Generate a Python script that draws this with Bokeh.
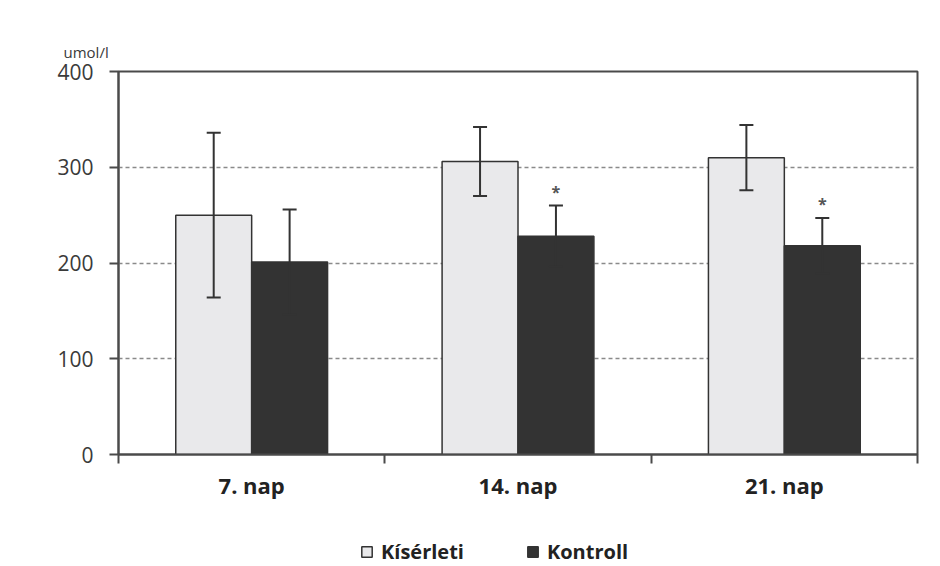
from bokeh.plotting import figure
from bokeh.layouts import column
from bokeh.models import (ColumnDataSource, FixedTicker, Whisker, TeeHead, Legend,
                          LegendItem, Range1d)
from bokeh.core.properties import value
from bokeh.embed import file_html
from bokeh.resources import INLINE

# ---- data ----
days = ["7. nap", "14. nap", "21. nap"]
kiserleti = [250, 306, 310]
kiserleti_err = [86, 36, 34]
kontroll = [201, 228, 218]
kontroll_err = [55, 32, 29]
sig = ["", "*", "*"]
y_ticks = [0, 100, 200, 300, 400]
unit_label = "umol/l"
series_names = ["Kísérleti", "Kontroll"]

FONT = "Open Sans"
DARK = "#333333"
LIGHT = "#e9e9eb"
AX = "#4a4a4a"

bar_w = 0.285
centers = [i + 0.5 for i in range(len(days))]
x_k = [c - bar_w / 2 for c in centers]
x_c = [c + bar_w / 2 for c in centers]

src_k = ColumnDataSource(dict(x=x_k, top=kiserleti,
                              lo=[m - e for m, e in zip(kiserleti, kiserleti_err)],
                              hi=[m + e for m, e in zip(kiserleti, kiserleti_err)]))
src_c = ColumnDataSource(dict(x=x_c, top=kontroll,
                              lo=[m - e for m, e in zip(kontroll, kontroll_err)],
                              hi=[m + e for m, e in zip(kontroll, kontroll_err)],
                              sig=sig))

p = figure(width=940, height=530, output_backend="svg", toolbar_location=None,
           x_range=Range1d(0, len(days)), y_range=Range1d(y_ticks[0], y_ticks[-1]),
           min_border_left=118, min_border_right=23, min_border_top=71,
           min_border_bottom=76)
p.background_fill_color = "white"
p.border_fill_color = "white"
p.outline_line_color = AX
p.outline_line_width = 2

# unit label as left-aligned title
p.title.text = unit_label
p.title.align = "left"
p.title.offset = -55
p.title.standoff = 19
p.title.text_font = FONT
p.title.text_font_size = "15px"
p.title.text_font_style = "normal"
p.title.text_color = "#3a3a3a"

p.vbar(x="x", top="top", width=bar_w, bottom=0, source=src_k,
       fill_color=LIGHT, line_color=DARK, line_width=1.5)
p.vbar(x="x", top="top", width=bar_w, bottom=0, source=src_c,
       fill_color=DARK, line_color=DARK, line_width=1.5)

for src in (src_k, src_c):
    w = Whisker(source=src, base="x", upper="hi", lower="lo", level="overlay",
                line_color=DARK, line_width=2,
                upper_head=TeeHead(size=14, line_color=DARK, line_width=2),
                lower_head=TeeHead(size=14, line_color=DARK, line_width=2))
    p.add_layout(w)

p.text(x="x", y="hi", text="sig", source=src_c, text_align="center",
       text_baseline="middle", y_offset=-14, text_font=value(FONT),
       text_font_size="16px", text_color="#555555", text_font_style="bold")

# axes
p.xaxis.ticker = FixedTicker(ticks=centers, minor_ticks=list(range(len(days) + 1)))
p.xaxis.major_label_overrides = {c: d for c, d in zip(centers, days)}
p.xaxis.major_tick_out = 0
p.xaxis.major_tick_in = 0
p.xaxis.minor_tick_out = 9
p.xaxis.minor_tick_in = 0
p.xaxis.minor_tick_line_color = AX
p.xaxis.minor_tick_line_width = 2
p.xaxis.axis_line_color = AX
p.xaxis.axis_line_width = 2
p.xaxis.major_label_text_font = FONT
p.xaxis.major_label_text_font_style = "bold"
p.xaxis.major_label_text_font_size = "22px"
p.xaxis.major_label_text_color = "#222222"
p.xaxis.major_label_standoff = 6

p.yaxis.ticker = FixedTicker(ticks=y_ticks, minor_ticks=[])
p.yaxis.major_tick_out = 9
p.yaxis.major_tick_in = 0
p.yaxis.major_tick_line_color = AX
p.yaxis.major_tick_line_width = 2
p.yaxis.axis_line_color = AX
p.yaxis.axis_line_width = 2
p.yaxis.major_label_text_font = FONT
p.yaxis.major_label_text_font_size = "21px"
p.yaxis.major_label_text_color = "#3a3a3a"
p.yaxis.major_label_standoff = 16

p.xgrid.grid_line_color = None
p.ygrid.ticker = FixedTicker(ticks=y_ticks[1:-1])
p.ygrid.grid_line_color = "#8a8a8a"
p.ygrid.grid_line_dash = "4 3"
p.ygrid.grid_line_width = 1.5

# ---- legend strip below the chart (its proxy renderers are hidden) ----
lg = figure(width=940, height=36, output_backend="svg", toolbar_location=None,
            x_range=p.x_range, y_range=Range1d(0, 1),
            min_border=0, x_axis_type=None, y_axis_type=None)
lg.outline_line_color = None
lg.grid.grid_line_color = None
lg.border_fill_color = "white"
lg.background_fill_color = "white"
rk = lg.vbar(x="x", top="top", width=bar_w, bottom=0, source=src_k,
             fill_color=LIGHT, line_color=DARK, line_width=1.5, visible=False)
rc = lg.vbar(x="x", top="top", width=bar_w, bottom=0, source=src_c,
             fill_color=DARK, line_color=DARK, line_width=1.5, visible=False)

legend = Legend(items=[LegendItem(label=series_names[0], renderers=[rk]),
                       LegendItem(label=series_names[1], renderers=[rc])],
                location=(242, 1), orientation="horizontal",
                padding=0, margin=0, spacing=62, label_standoff=8,
                glyph_width=13, glyph_height=13, label_height=20,
                border_line_color=None, background_fill_alpha=0,
                inactive_fill_alpha=0,
                label_text_font=FONT, label_text_font_style="bold",
                label_text_font_size="20px", label_text_color="#222222")
lg.add_layout(legend)

layout = column(p, lg, spacing=0)
open("out.html", "w").write(file_html(layout, INLINE))
